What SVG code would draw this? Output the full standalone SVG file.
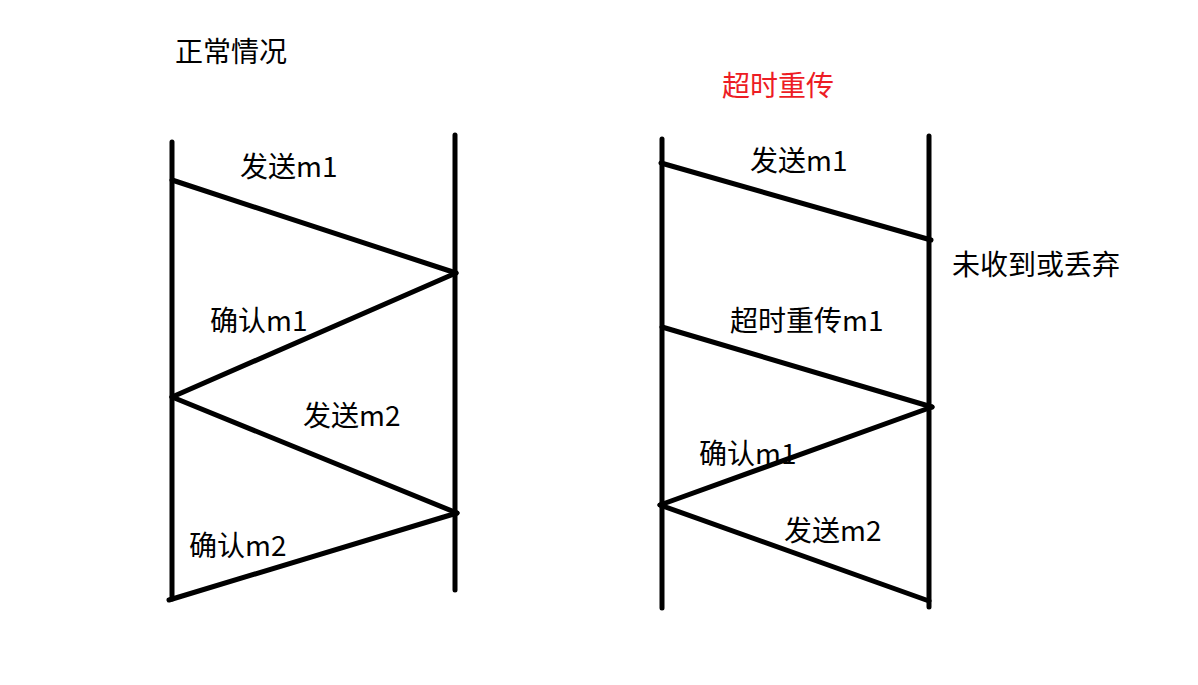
<svg xmlns="http://www.w3.org/2000/svg" width="1198" height="685" viewBox="0 0 1198 685">
<style>
.ln{stroke:#000;stroke-width:5;stroke-linecap:round;fill:none}
.t{font-family:"Microsoft YaHei","Noto Sans CJK SC",sans-serif;font-size:28px;fill:#000}
.red{fill:#ed1c24}
</style>
<rect width="1198" height="685" fill="#fff"/>
<g id="title-normal"><text class="t" x="175" y="62">正常情况</text></g>
<g id="title-retx"><text class="t red" x="722" y="96">超时重传</text></g>
<g id="lane-left-a"><line class="ln" x1="172" y1="142" x2="172" y2="599"/></g>
<g id="lane-left-b"><line class="ln" x1="455" y1="135" x2="455" y2="590"/></g>
<g id="lane-right-a"><line class="ln" x1="662" y1="139" x2="662" y2="608"/></g>
<g id="lane-right-b"><line class="ln" x1="929" y1="136" x2="929" y2="607"/></g>
<g id="connectors">
<line class="ln" x1="172" y1="180" x2="456" y2="273"/>
<line class="ln" x1="456" y1="273" x2="172" y2="397"/>
<line class="ln" x1="172" y1="397" x2="457" y2="513"/>
<line class="ln" x1="457" y1="513" x2="169" y2="600"/>
<line class="ln" x1="661" y1="163" x2="931" y2="240"/>
<line class="ln" x1="662" y1="327" x2="932" y2="407"/>
<line class="ln" x1="932" y1="407" x2="660" y2="505"/>
<line class="ln" x1="660" y1="505" x2="929" y2="601"/>
</g>
<g id="labels">
<text class="t" x="240" y="177">发送m1</text>
<text class="t" x="210" y="331">确认m1</text>
<text class="t" x="303" y="426">发送m2</text>
<text class="t" x="189" y="556">确认m2</text>
<text class="t" x="750" y="171">发送m1</text>
<text class="t" x="952" y="275">未收到或丢弃</text>
<text class="t" x="730" y="331">超时重传m1</text>
<text class="t" x="699" y="464">确认m1</text>
<text class="t" x="784" y="541">发送m2</text>
</g>
</svg>
